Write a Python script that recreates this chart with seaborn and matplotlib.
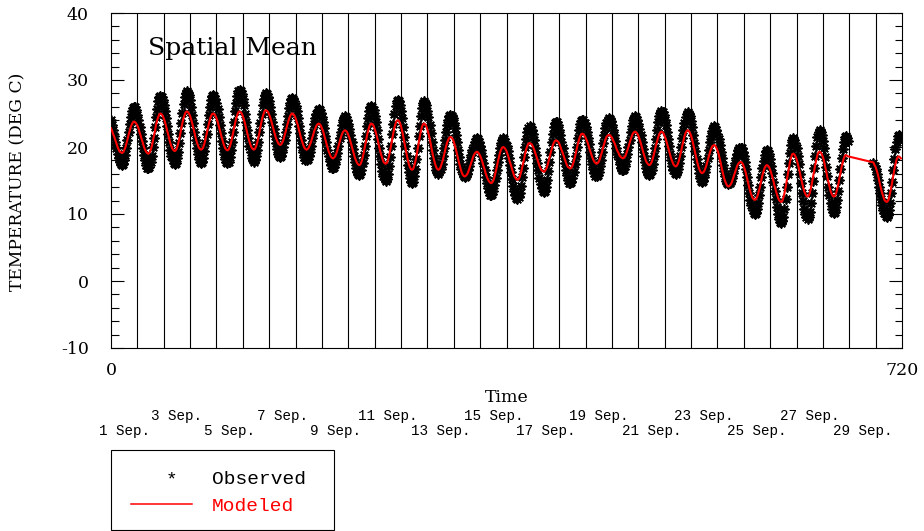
import numpy as np
import pandas as pd
import matplotlib
matplotlib.use("Agg")
import matplotlib.pyplot as plt
from matplotlib.patches import Rectangle
from matplotlib.lines import Line2D
from matplotlib.transforms import blended_transform_factory
import seaborn as sns

# Hourly spatial-mean air temperature (deg C), one row per day, 1-30 Sep.
observed_by_day = [
    [24.0, 23.3, 22.5, 21.6, 20.7, 19.8, 19.0, 18.3, 17.7, 17.4, 17.3, 17.5, 18.0, 18.8, 19.8, 21.0, 22.3, 23.5, 24.5, 25.3, 25.8, 26.0, 25.9, 25.5],
    [24.8, 24.0, 23.0, 22.0, 20.9, 19.8, 18.8, 18.0, 17.3, 16.9, 16.8, 17.0, 17.7, 18.7, 20.0, 21.4, 23.0, 24.5, 25.7, 26.8, 27.4, 27.6, 27.4, 27.0],
    [26.3, 25.4, 24.3, 23.1, 21.9, 20.7, 19.6, 18.7, 18.0, 17.6, 17.4, 17.6, 18.3, 19.3, 20.6, 22.1, 23.6, 25.1, 26.4, 27.4, 28.1, 28.3, 28.1, 27.7],
    [27.0, 26.0, 24.8, 23.6, 22.3, 21.1, 19.9, 19.0, 18.2, 17.8, 17.6, 17.8, 18.4, 19.4, 20.6, 22.0, 23.4, 24.8, 26.0, 27.0, 27.6, 27.8, 27.6, 27.2],
    [26.5, 25.6, 24.5, 23.3, 22.1, 20.9, 19.8, 18.9, 18.2, 17.8, 17.6, 17.8, 18.5, 19.5, 20.8, 22.3, 23.8, 25.3, 26.6, 27.6, 28.3, 28.5, 28.3, 27.9],
    [27.2, 26.2, 25.0, 23.8, 22.5, 21.3, 20.1, 19.2, 18.4, 18.0, 17.8, 18.0, 18.6, 19.6, 20.8, 22.2, 23.6, 25.0, 26.2, 27.2, 27.8, 28.0, 27.9, 27.5],
    [26.8, 26.0, 24.9, 23.8, 22.7, 21.6, 20.6, 19.7, 19.0, 18.6, 18.5, 18.7, 19.2, 20.0, 21.1, 22.3, 23.5, 24.7, 25.8, 26.6, 27.1, 27.3, 27.2, 26.8],
    [26.1, 25.3, 24.3, 23.2, 22.1, 21.0, 20.0, 19.2, 18.5, 18.1, 18.0, 18.2, 18.6, 19.3, 20.2, 21.3, 22.3, 23.4, 24.3, 25.0, 25.5, 25.6, 25.5, 25.1],
    [24.5, 23.7, 22.8, 21.7, 20.7, 19.6, 18.7, 17.9, 17.3, 16.9, 16.8, 17.0, 17.4, 18.2, 19.1, 20.2, 21.3, 22.3, 23.3, 24.0, 24.4, 24.6, 24.5, 24.1],
    [23.5, 22.7, 21.8, 20.7, 19.7, 18.6, 17.7, 16.9, 16.3, 15.9, 15.8, 16.0, 16.6, 17.6, 18.8, 20.2, 21.7, 23.1, 24.3, 25.3, 25.9, 26.1, 25.9, 25.5],
    [24.7, 23.7, 22.5, 21.2, 19.9, 18.6, 17.4, 16.4, 15.6, 15.2, 15.0, 15.2, 16.0, 17.1, 18.5, 20.2, 21.9, 23.5, 24.9, 26.1, 26.8, 27.0, 26.8, 26.3],
    [25.4, 24.3, 23.0, 21.5, 20.1, 18.6, 17.3, 16.2, 15.3, 14.8, 14.6, 14.8, 15.6, 16.7, 18.2, 19.8, 21.6, 23.2, 24.7, 25.8, 26.6, 26.8, 26.6, 26.2],
    [25.4, 24.5, 23.3, 22.1, 20.8, 19.5, 18.3, 17.4, 16.6, 16.2, 16.0, 16.2, 16.7, 17.5, 18.6, 19.8, 21.0, 22.2, 23.3, 24.1, 24.6, 24.8, 24.7, 24.3],
    [23.6, 22.8, 21.8, 20.7, 19.6, 18.5, 17.5, 16.7, 16.0, 15.6, 15.5, 15.6, 16.0, 16.5, 17.2, 18.0, 18.8, 19.6, 20.3, 20.8, 21.2, 21.3, 21.2, 20.8],
    [20.2, 19.5, 18.6, 17.6, 16.5, 15.5, 14.6, 13.9, 13.3, 12.9, 12.8, 13.0, 13.5, 14.3, 15.3, 16.5, 17.7, 18.8, 19.8, 20.6, 21.1, 21.3, 21.2, 20.8],
    [20.2, 19.4, 18.4, 17.3, 16.3, 15.2, 14.2, 13.4, 12.8, 12.4, 12.3, 12.5, 13.2, 14.2, 15.5, 16.9, 18.5, 20.0, 21.2, 22.3, 22.9, 23.1, 23.0, 22.5],
    [21.9, 21.0, 19.9, 18.8, 17.6, 16.5, 15.4, 14.5, 13.9, 13.5, 13.3, 13.5, 14.1, 15.1, 16.4, 17.8, 19.3, 20.7, 22.0, 23.0, 23.6, 23.8, 23.7, 23.3],
    [22.6, 21.8, 20.8, 19.8, 18.7, 17.6, 16.6, 15.8, 15.1, 14.7, 14.6, 14.8, 15.4, 16.2, 17.4, 18.7, 20.0, 21.3, 22.5, 23.4, 23.9, 24.1, 24.0, 23.6],
    [23.0, 22.3, 21.4, 20.4, 19.3, 18.4, 17.4, 16.7, 16.1, 15.7, 15.6, 15.8, 16.3, 17.1, 18.1, 19.3, 20.6, 21.8, 22.8, 23.6, 24.1, 24.3, 24.2, 23.9],
    [23.3, 22.6, 21.8, 20.9, 19.9, 19.0, 18.2, 17.5, 16.9, 16.6, 16.5, 16.7, 17.1, 17.9, 18.9, 20.0, 21.1, 22.2, 23.2, 24.0, 24.4, 24.6, 24.5, 24.1],
    [23.5, 22.7, 21.8, 20.7, 19.7, 18.6, 17.7, 16.9, 16.3, 15.9, 15.8, 16.0, 16.6, 17.4, 18.6, 19.9, 21.2, 22.5, 23.7, 24.6, 25.1, 25.3, 25.2, 24.8],
    [24.1, 23.3, 22.3, 21.2, 20.1, 19.0, 18.0, 17.2, 16.5, 16.1, 16.0, 16.2, 16.7, 17.6, 18.7, 20.0, 21.3, 22.5, 23.6, 24.5, 25.0, 25.2, 25.0, 24.6],
    [23.9, 23.0, 21.8, 20.6, 19.4, 18.2, 17.1, 16.1, 15.4, 15.0, 14.8, 15.0, 15.5, 16.2, 17.2, 18.4, 19.5, 20.7, 21.7, 22.4, 22.9, 23.1, 23.0, 22.6],
    [22.0, 21.2, 20.3, 19.3, 18.3, 17.3, 16.4, 15.6, 15.0, 14.6, 14.5, 14.6, 14.9, 15.4, 16.1, 16.8, 17.6, 18.3, 19.0, 19.5, 19.8, 19.9, 19.8, 19.3],
    [18.7, 17.8, 16.7, 15.5, 14.4, 13.2, 12.1, 11.3, 10.6, 10.2, 10.0, 10.2, 10.8, 11.7, 12.8, 14.1, 15.5, 16.8, 17.9, 18.8, 19.4, 19.6, 19.4, 19.0],
    [18.2, 17.2, 16.1, 14.8, 13.4, 12.2, 11.0, 10.0, 9.2, 8.8, 8.6, 8.9, 9.6, 10.8, 12.3, 14.1, 15.9, 17.6, 19.1, 20.3, 21.0, 21.3, 21.1, 20.6],
    [19.8, 18.7, 17.4, 16.0, 14.6, 13.2, 11.9, 10.8, 10.0, 9.5, 9.3, 9.6, 10.3, 11.6, 13.2, 15.0, 16.8, 18.7, 20.2, 21.5, 22.2, 22.5, 22.3, 21.8],
    [20.9, 19.8, 18.5, 17.0, 15.6, 14.1, 12.8, 11.7, 10.8, 10.3, 10.1, 10.3, 11.0, 12.1, 13.5, 15.1, 16.7, 18.3, 19.7, 20.8, 21.5, 21.7, 21.4, 20.9],
    [None] * 22 + [17.6, 17.2],
    [16.7, 16.0, 15.1, 14.1, 13.2, 12.2, 11.4, 10.6, 10.1, 9.7, 9.6, 9.8, 10.6, 11.7, 13.2, 14.8, 16.6, 18.2, 19.7, 20.8, 21.6, 21.8, 21.6, 21.3],
]

modeled_by_day = [
    [22.8, 22.4, 21.9, 21.5, 21.0, 20.5, 20.0, 19.6, 19.3, 19.2, 19.1, 19.2, 19.5, 19.9, 20.5, 21.1, 21.8, 22.4, 23.0, 23.4, 23.7, 23.8, 23.7, 23.5],
    [23.2, 22.8, 22.2, 21.7, 21.1, 20.6, 20.0, 19.6, 19.3, 19.1, 19.0, 19.1, 19.5, 20.0, 20.8, 21.6, 22.4, 23.3, 24.0, 24.5, 24.9, 25.0, 24.9, 24.7],
    [24.3, 23.8, 23.2, 22.5, 21.9, 21.2, 20.6, 20.1, 19.7, 19.5, 19.4, 19.5, 19.9, 20.4, 21.1, 21.9, 22.8, 23.6, 24.3, 24.8, 25.2, 25.3, 25.2, 25.0],
    [24.6, 24.1, 23.5, 22.8, 22.1, 21.4, 20.8, 20.3, 19.9, 19.7, 19.6, 19.7, 20.0, 20.5, 21.2, 21.9, 22.7, 23.4, 24.1, 24.6, 24.9, 25.0, 24.9, 24.7],
    [24.3, 23.8, 23.2, 22.6, 21.9, 21.3, 20.7, 20.2, 19.8, 19.6, 19.5, 19.6, 20.0, 20.5, 21.2, 22.0, 22.8, 23.6, 24.3, 24.8, 25.2, 25.3, 25.2, 25.0],
    [24.6, 24.1, 23.5, 22.8, 22.1, 21.4, 20.8, 20.3, 19.9, 19.7, 19.6, 19.7, 20.1, 20.6, 21.3, 22.1, 23.0, 23.8, 24.5, 25.0, 25.4, 25.5, 25.4, 25.2],
    [24.8, 24.4, 23.8, 23.2, 22.6, 22.0, 21.4, 21.0, 20.6, 20.4, 20.3, 20.4, 20.7, 21.1, 21.7, 22.3, 23.0, 23.6, 24.2, 24.6, 24.9, 25.0, 24.9, 24.7],
    [24.3, 23.8, 23.3, 22.6, 22.0, 21.3, 20.8, 20.3, 19.9, 19.7, 19.6, 19.7, 19.9, 20.3, 20.7, 21.3, 21.8, 22.4, 22.8, 23.2, 23.4, 23.5, 23.4, 23.2],
    [22.8, 22.4, 21.8, 21.2, 20.6, 20.0, 19.4, 19.0, 18.6, 18.4, 18.3, 18.4, 18.6, 19.0, 19.5, 20.1, 20.7, 21.3, 21.8, 22.2, 22.4, 22.5, 22.4, 22.2],
    [21.8, 21.4, 20.8, 20.2, 19.6, 19.0, 18.4, 18.0, 17.6, 17.4, 17.3, 17.4, 17.8, 18.4, 19.1, 20.0, 20.8, 21.7, 22.4, 23.0, 23.4, 23.5, 23.4, 23.2],
    [22.7, 22.2, 21.6, 20.9, 20.1, 19.4, 18.8, 18.3, 17.8, 17.6, 17.5, 17.6, 18.0, 18.6, 19.4, 20.3, 21.2, 22.1, 22.9, 23.5, 23.9, 24.0, 23.9, 23.6],
    [23.1, 22.4, 21.6, 20.7, 19.9, 19.0, 18.2, 17.5, 17.0, 16.7, 16.6, 16.7, 17.2, 17.8, 18.6, 19.6, 20.5, 21.5, 22.3, 23.0, 23.4, 23.5, 23.4, 23.1],
    [22.6, 22.0, 21.3, 20.5, 19.6, 18.8, 18.1, 17.5, 17.0, 16.7, 16.6, 16.7, 17.0, 17.5, 18.0, 18.7, 19.4, 20.1, 20.7, 21.1, 21.4, 21.5, 21.4, 21.2],
    [20.8, 20.2, 19.6, 18.9, 18.2, 17.5, 16.9, 16.3, 15.9, 15.7, 15.6, 15.7, 15.9, 16.2, 16.7, 17.2, 17.7, 18.2, 18.7, 19.0, 19.2, 19.3, 19.2, 19.0],
    [18.7, 18.3, 17.8, 17.2, 16.7, 16.1, 15.6, 15.2, 14.9, 14.7, 14.6, 14.7, 15.0, 15.5, 16.2, 16.9, 17.7, 18.4, 19.1, 19.6, 19.9, 20.0, 19.9, 19.7],
    [19.4, 18.9, 18.4, 17.8, 17.3, 16.7, 16.2, 15.7, 15.4, 15.2, 15.1, 15.2, 15.5, 16.1, 16.7, 17.5, 18.2, 19.0, 19.7, 20.2, 20.5, 20.6, 20.5, 20.4],
    [20.1, 19.7, 19.2, 18.7, 18.2, 17.7, 17.2, 16.8, 16.5, 16.4, 16.3, 16.4, 16.7, 17.1, 17.7, 18.3, 19.0, 19.6, 20.2, 20.6, 20.9, 21.0, 20.9, 20.8],
    [20.5, 20.1, 19.6, 19.2, 18.7, 18.2, 17.7, 17.3, 17.0, 16.9, 16.8, 16.9, 17.2, 17.7, 18.3, 19.0, 19.8, 20.5, 21.1, 21.6, 21.9, 22.0, 21.9, 21.7],
    [21.4, 21.0, 20.6, 20.0, 19.5, 19.0, 18.5, 18.1, 17.8, 17.6, 17.5, 17.6, 17.8, 18.2, 18.8, 19.3, 20.0, 20.5, 21.1, 21.5, 21.7, 21.8, 21.8, 21.6],
    [21.4, 21.0, 20.7, 20.3, 19.8, 19.4, 19.1, 18.7, 18.5, 18.4, 18.3, 18.4, 18.6, 19.0, 19.5, 20.0, 20.6, 21.1, 21.6, 22.0, 22.2, 22.3, 22.2, 22.0],
    [21.7, 21.2, 20.7, 20.1, 19.5, 18.9, 18.4, 17.9, 17.6, 17.4, 17.3, 17.4, 17.7, 18.2, 18.8, 19.5, 20.2, 20.8, 21.4, 21.9, 22.2, 22.3, 22.2, 22.0],
    [21.6, 21.2, 20.6, 20.0, 19.4, 18.8, 18.2, 17.8, 17.4, 17.2, 17.1, 17.2, 17.5, 18.0, 18.7, 19.4, 20.2, 20.9, 21.6, 22.1, 22.4, 22.5, 22.4, 22.1],
    [21.7, 21.1, 20.4, 19.7, 18.9, 18.2, 17.5, 16.9, 16.5, 16.2, 16.1, 16.2, 16.4, 16.8, 17.3, 17.9, 18.5, 19.1, 19.6, 20.0, 20.2, 20.3, 20.2, 19.9],
    [19.5, 19.0, 18.3, 17.6, 16.8, 16.1, 15.4, 14.9, 14.5, 14.2, 14.1, 14.2, 14.4, 14.7, 15.2, 15.7, 16.2, 16.7, 17.2, 17.5, 17.7, 17.8, 17.7, 17.5],
    [17.1, 16.6, 16.0, 15.3, 14.6, 13.9, 13.3, 12.8, 12.4, 12.2, 12.1, 12.2, 12.5, 13.0, 13.6, 14.3, 15.1, 15.8, 16.4, 16.9, 17.2, 17.3, 17.2, 17.0],
    [16.6, 16.1, 15.5, 14.9, 14.2, 13.6, 13.0, 12.5, 12.1, 11.9, 11.8, 11.9, 12.4, 13.1, 13.9, 14.9, 15.9, 16.9, 17.8, 18.4, 18.9, 19.0, 18.9, 18.6],
    [18.2, 17.6, 16.9, 16.2, 15.4, 14.7, 14.0, 13.4, 13.0, 12.7, 12.6, 12.7, 13.1, 13.8, 14.6, 15.5, 16.4, 17.3, 18.1, 18.8, 19.2, 19.3, 19.2, 18.9],
    [18.5, 17.9, 17.1, 16.4, 15.5, 14.8, 14.1, 13.4, 13.0, 12.7, 12.6, 12.7, 13.1, 13.7, 14.4, 15.3, 16.1, 17.0, 17.7, 18.3, 18.7, 18.8, 18.7, 18.6],
    [None] * 22 + [17.7, 17.3],
    [17.0, 16.5, 15.9, 15.2, 14.4, 13.7, 13.1, 12.6, 12.1, 11.9, 11.8, 11.9, 12.3, 13.0, 13.8, 14.7, 15.7, 16.6, 17.4, 18.1, 18.5, 18.6, 18.5, 18.3],
]

hours_per_day = 24
n_days = len(observed_by_day)
hours = np.arange(n_days * hours_per_day)

y_ticks = [-10, 0, 10, 20, 30, 40]
x_ticks = [0, 720]
x_tick_labels = ["0", "720"]
upper_dates = ["3 Sep.", "7 Sep.", "11 Sep.", "15 Sep.", "19 Sep.", "23 Sep.", "27 Sep."]
upper_days = [3, 7, 11, 15, 19, 23, 27]
lower_dates = ["1 Sep.", "5 Sep.", "9 Sep.", "13 Sep.", "17 Sep.", "21 Sep.", "25 Sep.", "29 Sep."]
lower_days = [1, 5, 9, 13, 17, 21, 25, 29]

obs = pd.DataFrame({
    "hour": hours,
    "temp": pd.to_numeric(pd.Series(sum(observed_by_day, [])), errors="coerce"),
}).dropna()
mod = pd.DataFrame({
    "hour": hours,
    "temp": pd.to_numeric(pd.Series(sum(modeled_by_day, [])), errors="coerce"),
}).dropna()

SERIF = "DejaVu Serif"
MONO = "Liberation Mono"
plt.rcParams["font.family"] = [SERIF]
plt.rcParams["axes.linewidth"] = 0.8
plt.rcParams["axes.unicode_minus"] = False

W, H = 924, 531
fig = plt.figure(figsize=(W / 100, H / 100), dpi=100)
L, R, T, B = 111, 902, 13, 348
ax = fig.add_axes([L / W, 1 - B / H, (R - L) / W, (B - T) / H])

# day separators
for d in range(1, n_days):
    ax.axvline(d * hours_per_day, color="black", lw=0.8, zorder=1)

sns.scatterplot(data=obs, x="hour", y="temp", ax=ax, marker=(8, 2, 0), s=40,
                color="black", linewidth=1.3, legend=False, zorder=3)
sns.lineplot(data=mod, x="hour", y="temp", ax=ax, color="#ff0000", linewidth=1.5,
             estimator=None, sort=False, legend=False, zorder=4)

ax.set_xlim(0, 720)
ax.set_ylim(-10, 40)
ax.set_yticks(y_ticks)
ax.set_yticks(np.arange(-10, 41, 2), minor=True)
ax.set_xticks(x_ticks)
ax.set_xticklabels(x_tick_labels)
ax.tick_params(axis="y", which="major", direction="in", length=9.4, width=0.8,
               left=True, right=True, labelsize=12.5, pad=16)
ax.tick_params(axis="y", which="minor", direction="in", length=5.4, width=0.8,
               left=True, right=True)
ax.tick_params(axis="x", which="both", length=0, labelsize=12.5, pad=10)
for s in ax.spines.values():
    s.set_color("black")

ax.set_ylabel("TEMPERATURE (DEG C)", fontsize=12.3, va="center")
ax.yaxis.set_label_coords((18 - L) / (R - L), (B - 182) / (B - T))
ax.set_xlabel("Time", fontsize=12.5, va="center")
ax.xaxis.set_label_coords(0.5, (B - 398) / (B - T))

ax.text((148 - L) / (R - L), (B - 48) / (B - T), "Spatial Mean",
        transform=ax.transAxes, fontsize=18, ha="left", va="center")

tr = blended_transform_factory(ax.transData, ax.transAxes)
for d, lab in zip(upper_days, upper_dates):
    ax.text((d - 1) * hours_per_day + 12, (B - 416) / (B - T), lab, transform=tr,
            ha="center", va="center", family=MONO, fontsize=10.3, clip_on=False)
for d, lab in zip(lower_days, lower_dates):
    ax.text((d - 1) * hours_per_day + 12, (B - 431) / (B - T), lab, transform=tr,
            ha="center", va="center", family=MONO, fontsize=10.3, clip_on=False)

# legend box below the plot
fig.add_artist(Rectangle((111 / W, 1 - 530 / H), (334 - 111) / W, (530 - 450) / H,
                         transform=fig.transFigure, fill=False, ec="black", lw=0.8))
fig.text(172 / W, 1 - 484 / H, "*", family=MONO, fontsize=14, ha="center", va="baseline")
fig.text(212 / W, 1 - 484 / H, "Observed", family=MONO, fontsize=14, ha="left", va="baseline")
fig.add_artist(Line2D([131 / W, 192 / W], [1 - 503.5 / H] * 2, transform=fig.transFigure,
                      color="#ff0000", lw=1.1))
fig.text(212 / W, 1 - 511 / H, "Modeled", family=MONO, fontsize=14, color="#ff0000",
         ha="left", va="baseline")

fig.savefig("out.png", dpi=100)
